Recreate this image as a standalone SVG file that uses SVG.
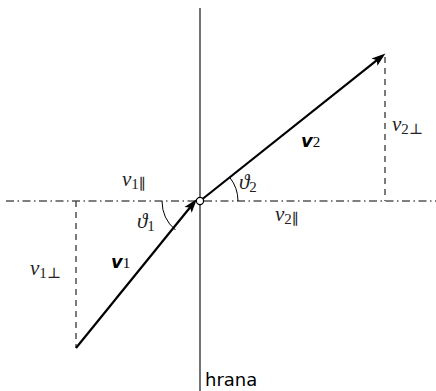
<svg xmlns="http://www.w3.org/2000/svg" width="436" height="391" viewBox="0 0 436 391">
<style>
.axis{stroke:#000;stroke-width:1.1;fill:none}
.dashdot{stroke:#555;stroke-width:1.4;stroke-dasharray:8 3.5 1.5 3.5;fill:none}
.dash{stroke:#444;stroke-width:1.4;stroke-dasharray:6 5;fill:none}
.vec{stroke:#000;stroke-width:2.2;fill:none}
.arc{stroke:#000;stroke-width:1;fill:none}
.m{font-family:"Liberation Serif","DejaVu Serif",serif;font-size:21px;fill:#222}
.i{font-style:italic}
.s{font-size:15px}
.b{font-family:"DejaVu Sans","Liberation Sans",sans-serif;font-weight:bold;font-style:italic;font-size:18px;fill:#000}
.bs{font-family:"Liberation Serif",serif;font-style:normal;font-weight:normal;font-size:15px}
.t{font-family:"DejaVu Sans","Liberation Sans",sans-serif;font-size:18px;fill:#000}
</style>
<defs>
<marker id="ah" markerUnits="userSpaceOnUse" markerWidth="15" markerHeight="11" refX="4" refY="5" orient="auto" overflow="visible">
<path d="M0,0.3 L14,5 L0,9.7 L3,5 z" fill="#000"/>
</marker>
</defs>
<g id="axes">
<line id="edge" class="axis" x1="200" y1="8" x2="200" y2="391"/>
<line id="surface" class="dashdot" x1="6" y1="201" x2="436" y2="201"/>
</g>
<g id="connectors">
<line class="dash" x1="76" y1="201" x2="76" y2="348"/>
<line class="dash" x1="385" y1="57" x2="385" y2="201"/>
<line id="v1" class="vec" x1="76" y1="348" x2="190.6" y2="206.8" marker-end="url(#ah)"/>
<line id="v2" class="vec" x1="200" y1="201" x2="377.6" y2="59.7" marker-end="url(#ah)"/>
<path class="arc" d="M162,201 A38,38 0 0 0 175.5,230"/>
<path class="arc" d="M238,201 A38,38 0 0 0 229.7,177.4"/>
</g>
<g id="origin">
<circle cx="200" cy="201" r="3.6" fill="#fff" stroke="#000" stroke-width="1.2"/>
</g>
<g id="labels">
<text class="m" x="122" y="186"><tspan class="i">v</tspan><tspan class="s" dy="3">1∥</tspan></text>
<text class="m" x="137" y="228"><tspan class="i">ϑ</tspan><tspan class="s" dy="3">1</tspan></text>
<text class="m" x="30" y="275"><tspan class="i">v</tspan><tspan class="s" dy="3">1⊥</tspan></text>
<text class="b" x="111" y="268">v<tspan class="bs">1</tspan></text>
<text class="m" x="239" y="189"><tspan class="i">ϑ</tspan><tspan class="s" dy="3">2</tspan></text>
<text class="m" x="275" y="221"><tspan class="i">v</tspan><tspan class="s" dy="3">2∥</tspan></text>
<text class="m" x="392" y="131"><tspan class="i">v</tspan><tspan class="s" dy="3">2⊥</tspan></text>
<text class="b" x="301" y="147">v<tspan class="bs">2</tspan></text>
<text class="t" x="205" y="386">hrana</text>
</g>
</svg>
